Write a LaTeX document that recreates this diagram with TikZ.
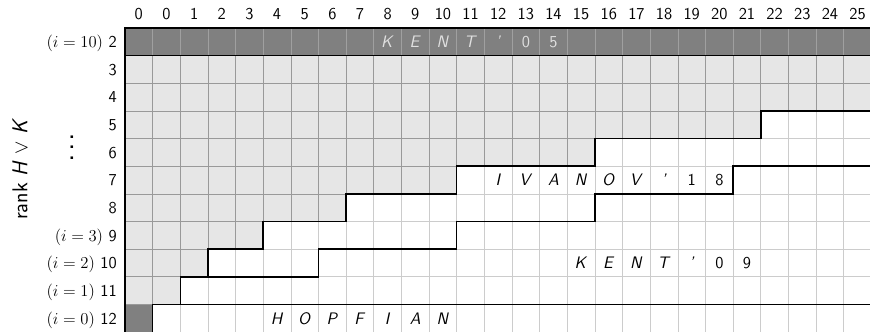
\documentclass[tikz,border=0pt]{standalone}
\usepackage{graphicx}
\definecolor{darkcell}{HTML}{808080}
\definecolor{lightcell}{HTML}{E6E6E6}
\definecolor{gridw}{HTML}{CCCCCC}
\definecolor{gridl}{HTML}{999999}
\definecolor{gridd}{HTML}{A0A0A0}
\definecolor{darktext}{HTML}{E0E0E0}
\begin{document}
\begin{tikzpicture}[x=0.7cm,y=0.7cm,font=\sffamily\large,
  thickline/.style={line width=1.1pt,black,line join=miter},
  gridline/.style={line width=0.5pt,xstep=0.7cm,ystep=0.7cm},
  lbl/.style={inner sep=0pt,anchor=base},
  rowlbl/.style={inner sep=0pt,anchor=base east},
  celltxt/.style={inner sep=0pt,anchor=base}]
\useasboundingbox (-4.522,0.036) rectangle (26.95,12.013);
% white region with light grid
\fill[white] (0,0) rectangle (27,11);
\draw[gridline,gridw] (0,0) grid (27,11);
% light gray region
\def\lightregion{(0,10) -- (27,10) -- (27,8) -- (23,8) -- (23,7) -- (17,7) -- (17,6) -- (12,6) -- (12,5) -- (8,5) -- (8,4) -- (5,4) -- (5,3) -- (3,3) -- (3,2) -- (2,2) -- (2,1) -- (0,1) -- cycle}
\fill[lightcell] \lightregion;
\begin{scope}
  \clip \lightregion;
  \draw[gridline,gridl] (0,0) grid (27,11);
\end{scope}
% dark cells
\fill[darkcell] (0,10) rectangle (27,11);
\draw[gridline,gridd] (0,10) grid (27,11);
\fill[darkcell] (0,0) rectangle (1,1);
\draw[gridline,gridl] (0,1) -- (1,1);
% thick lines
\draw[thickline] (0,0) -- (0,11) -- (27,11);
\draw[thickline] (0,10) -- (27,10);
\draw[thickline] (27,8) -- (23,8) -- (23,7) -- (17,7) -- (17,6) -- (12,6) -- (12,5) -- (8,5) -- (8,4) -- (5,4) -- (5,3) -- (3,3) -- (3,2) -- (2,2) -- (2,1) -- (1,1) -- (1,0);
\draw[thickline] (27,6) -- (22,6) -- (22,5) -- (17,5) -- (17,4) -- (12,4) -- (12,3) -- (7,3) -- (7,2) -- (2,2);
\draw[thickline] (1,1) -- (27,1);
% column labels
\node[lbl] (c0) at (0.5,11.30) {0};
\foreach \c in {1,...,26} {
  \pgfmathtruncatemacro{\lab}{\c-1}
  \node[lbl] (c\c) at (\c+0.5,11.30) {\lab};
}
% row labels
\node[rowlbl] (r2) at (-0.29,10.29) {$(i=10)$ 2};
\foreach \r in {3,...,8} {
  \node[rowlbl] (r\r) at (-0.29,12.29-\r) {\r};
}
\node[rowlbl] (r9) at (-0.29,3.29) {$(i=3)$ 9};
\node[rowlbl] (r10) at (-0.29,2.29) {$(i=2)$ 10};
\node[rowlbl] (r11) at (-0.29,1.29) {$(i=1)$ 11};
\node[rowlbl] (r12) at (-0.29,0.29) {$(i=0)$ 12};
% vdots and axis label
\node[anchor=south,inner sep=0pt] (dots) at (-1.92,6.24) {\scalebox{1.9}{$\vdots$}};
\node[rotate=90] (rank) at (-3.80,5.9) {\fontsize{15.5}{18}\selectfont rank \textit{H} $\vee$ \textit{K}};
% cell texts
\foreach \t [count=\i from 9] in {\textit{K},\textit{E},\textit{N},\textit{T},\textit{'},0,5} {
  \node[celltxt,text=darktext] (a\i) at (\i+0.5,10.29) {\t};
}
\foreach \t [count=\i from 13] in {\textit{I},\textit{V},\textit{A},\textit{N},\textit{O},\textit{V},\textit{'},1,8} {
  \node[celltxt] (b\i) at (\i+0.5,5.29) {\t};
}
\foreach \t [count=\i from 16] in {\textit{K},\textit{E},\textit{N},\textit{T},\textit{'},0,9} {
  \node[celltxt] (k\i) at (\i+0.5,2.29) {\t};
}
\foreach \t [count=\i from 5] in {\textit{H},\textit{O},\textit{P},\textit{F},\textit{I},\textit{A},\textit{N}} {
  \node[celltxt] (h\i) at (\i+0.5,0.29) {\t};
}
\end{tikzpicture}
\end{document}
